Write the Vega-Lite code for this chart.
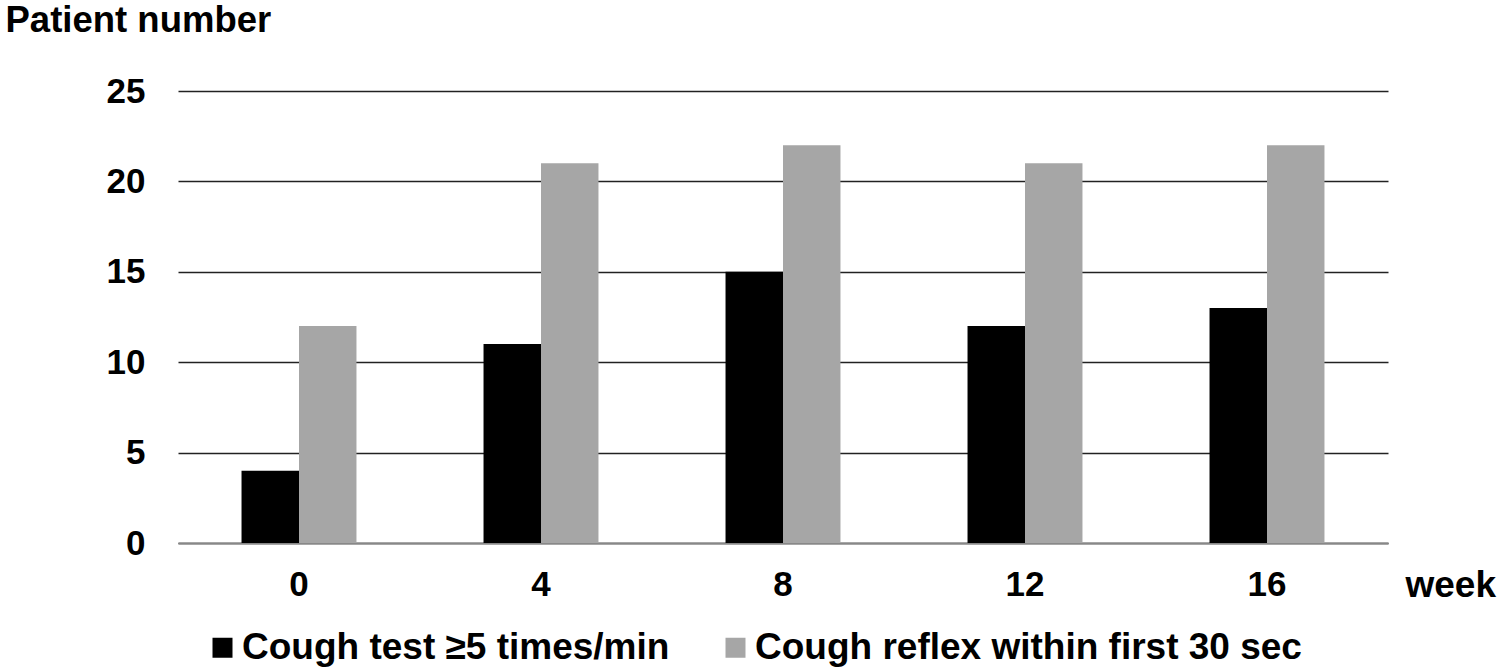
{
  "$schema": "https://vega.github.io/schema/vega-lite/v6.json",
  "width": 1210,
  "height": 452,
  "autosize": {"type": "none"},
  "padding": {"left": 178, "top": 91, "right": 111, "bottom": 128},
  "background": "white",
  "config": {
    "view": {"stroke": null},
    "font": "Liberation Sans",
    "axis": {"labelFont": "Liberation Sans", "titleFont": "Liberation Sans"},
    "legend": {"labelFont": "Liberation Sans"}
  },
  "data": {
    "values": [
      {"week": "0", "series": "Cough test ≥5 times/min", "patients": 4},
      {"week": "0", "series": "Cough reflex within first 30 sec", "patients": 12},
      {"week": "4", "series": "Cough test ≥5 times/min", "patients": 11},
      {"week": "4", "series": "Cough reflex within first 30 sec", "patients": 21},
      {"week": "8", "series": "Cough test ≥5 times/min", "patients": 15},
      {"week": "8", "series": "Cough reflex within first 30 sec", "patients": 22},
      {"week": "12", "series": "Cough test ≥5 times/min", "patients": 12},
      {"week": "12", "series": "Cough reflex within first 30 sec", "patients": 21},
      {"week": "16", "series": "Cough test ≥5 times/min", "patients": 13},
      {"week": "16", "series": "Cough reflex within first 30 sec", "patients": 22}
    ]
  },
  "mark": {"type": "bar"},
  "encoding": {
    "x": {
      "field": "week",
      "type": "ordinal",
      "sort": ["0", "4", "8", "12", "16"],
      "scale": {"paddingInner": 0.525, "paddingOuter": 0.2625},
      "axis": {
        "title": "week",
        "titleFontSize": 37,
        "titleFontWeight": "bold",
        "titleColor": "black",
        "titleAlign": "left",
        "titleBaseline": "middle",
        "titleAnchor": "start",
        "titleX": 1227,
        "titleY": 42,
        "labelAngle": 0,
        "labelFontSize": 35,
        "labelFontWeight": "bold",
        "labelColor": "black",
        "labelBaseline": "middle",
        "labelPadding": 41,
        "ticks": false,
        "domainColor": "#888888",
        "domainWidth": 2
      }
    },
    "xOffset": {
      "field": "series",
      "type": "nominal",
      "sort": ["Cough test ≥5 times/min", "Cough reflex within first 30 sec"],
      "scale": {"paddingInner": 0, "paddingOuter": 0}
    },
    "y": {
      "field": "patients",
      "type": "quantitative",
      "scale": {"domain": [0, 25]},
      "axis": {
        "values": [0, 5, 10, 15, 20, 25],
        "title": "Patient number",
        "titleAngle": 0,
        "titleAlign": "left",
        "titleBaseline": "middle",
        "titleX": -173,
        "titleY": -71,
        "titleFontSize": 36.5,
        "titleFontWeight": "bold",
        "titleColor": "black",
        "labelFontSize": 35,
        "labelFontWeight": "bold",
        "labelColor": "black",
        "labelPadding": 33,
        "ticks": false,
        "domain": false,
        "gridColor": "#222222",
        "gridWidth": 1.5
      }
    },
    "color": {
      "field": "series",
      "type": "nominal",
      "sort": ["Cough test ≥5 times/min", "Cough reflex within first 30 sec"],
      "scale": {"range": ["#000000", "#A6A6A6"]},
      "legend": {
        "title": null,
        "orient": "none",
        "legendX": 26,
        "legendY": 538,
        "direction": "horizontal",
        "symbolType": "square",
        "symbolSize": 400,
        "symbolStrokeWidth": 0,
        "labelOffset": 1,
        "labelFontSize": 37,
        "labelFontWeight": "bold",
        "labelColor": "black",
        "labelLimit": 700,
        "columnPadding": 47
      }
    }
  }
}
